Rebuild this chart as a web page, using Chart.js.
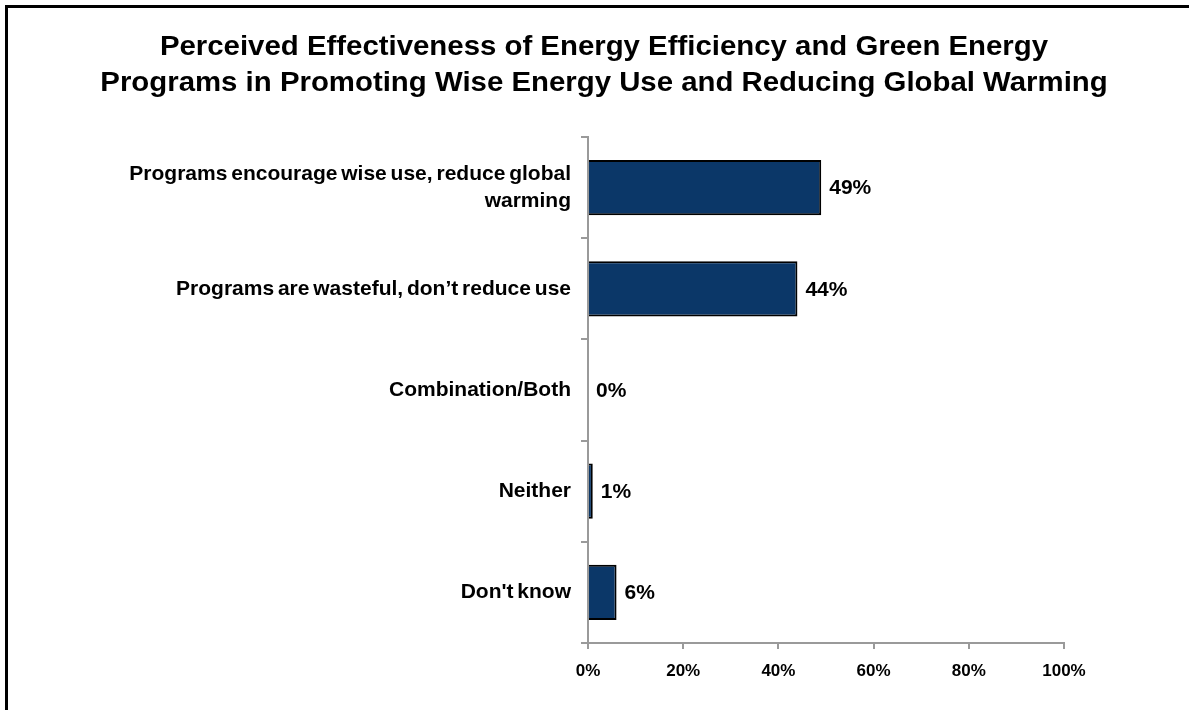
<!DOCTYPE html>
<html>
<head>
<meta charset="utf-8">
<script src="https://cdn.jsdelivr.net/npm/chart.js@4/dist/chart.umd.min.js"></script>
<style>
  html, body { margin: 0; padding: 0; background: #fff; overflow: hidden; }
  #wrap { position: relative; width: 1189px; height: 710px; }
  #frame { position: absolute; left: 5px; top: 5px; width: 1300px; height: 800px;
           border-left: 3px solid #000; border-top: 3px solid #000; box-sizing: border-box; }
  canvas { position: absolute; left: 0; top: 0; }
</style>
</head>
<body>
<div id="wrap">
  <div id="frame"></div>
  <canvas id="c" width="1189" height="710"></canvas>
</div>
<script>
// Survey responses on energy efficiency / green energy programs
const titleLines = [
  'Perceived Effectiveness of Energy Efficiency and Green Energy',
  'Programs in Promoting Wise Energy Use and Reducing Global Warming'
];
const categories = [
  ['Programs encourage wise use, reduce global', 'warming'],
  'Programs are wasteful, don\u2019t reduce use',
  'Combination/Both',
  'Neither',
  'Don\'t know'
];
const shares = [49, 44, 0, 1, 6];
const xTicks = [0, 20, 40, 60, 80, 100];

const FONT = '"Liberation Sans", Arial, sans-serif';
const AXIS_GREY = '#9a9a9a';

// Tighter word spacing for the category labels
const spacing = {
  id: 'spacing',
  beforeInit(chart) { chart.ctx.wordSpacing = '-2px'; },
  beforeDraw(chart) { chart.ctx.wordSpacing = '-2px'; }
};

// Title and value labels drawn on the canvas
const annotate = {
  id: 'annotate',
  afterDraw(chart) {
    const ctx = chart.ctx;
    ctx.save();
    ctx.wordSpacing = '0px';
    ctx.fillStyle = '#000';
    ctx.textBaseline = 'middle';

    // title: slightly widened bold face
    ctx.save();
    ctx.font = 'bold 27px ' + FONT;
    ctx.textAlign = 'center';
    ctx.translate(604, 0);
    ctx.scale(1.088, 1);
    ctx.fillText(titleLines[0], 0, 48);
    ctx.fillText(titleLines[1], 0, 84);
    ctx.restore();

    const meta = chart.getDatasetMeta(0);
    ctx.font = 'bold 21px ' + FONT;
    ctx.textAlign = 'left';
    meta.data.forEach((bar, i) => {
      ctx.fillText(shares[i] + '%', bar.x + 8, bar.y + 1);
    });
    ctx.restore();
  }
};

new Chart(document.getElementById('c'), {
  type: 'bar',
  data: {
    labels: categories,
    datasets: [{
      data: shares,
      backgroundColor: '#0b3768',
      borderColor: '#000',
      borderWidth: 2,
      borderSkipped: 'start',
      categoryPercentage: 1,
      barPercentage: 0.545
    }]
  },
  options: {
    indexAxis: 'y',
    responsive: false,
    animation: false,
    layout: { padding: { top: 137, right: 125, bottom: 0, left: 0 } },
    plugins: { legend: { display: false }, tooltip: { enabled: false }, title: { display: false } },
    scales: {
      x: {
        min: 0, max: 100,
        afterBuildTicks(scale) { scale.ticks = xTicks.map(v => ({ value: v })); },
        afterFit(scale) { scale.height = 67; },
        grid: { drawOnChartArea: false, tickLength: 6, color: AXIS_GREY, lineWidth: 2 },
        border: { color: AXIS_GREY, width: 2 },
        ticks: {
          color: '#000', padding: 12,
          font: { family: FONT, size: 17, weight: 'bold' },
          callback: v => v + '%'
        }
      },
      y: {
        afterFit(scale) { scale.width = 588; },
        grid: { drawOnChartArea: false, offset: true, tickLength: 7, color: AXIS_GREY, lineWidth: 2 },
        border: { color: AXIS_GREY, width: 2 },
        ticks: {
          color: '#000', padding: 10,
          font: { family: FONT, size: 21, weight: 'bold', lineHeight: 1.3 }
        }
      }
    }
  },
  plugins: [spacing, annotate]
});
</script>
</body>
</html>
